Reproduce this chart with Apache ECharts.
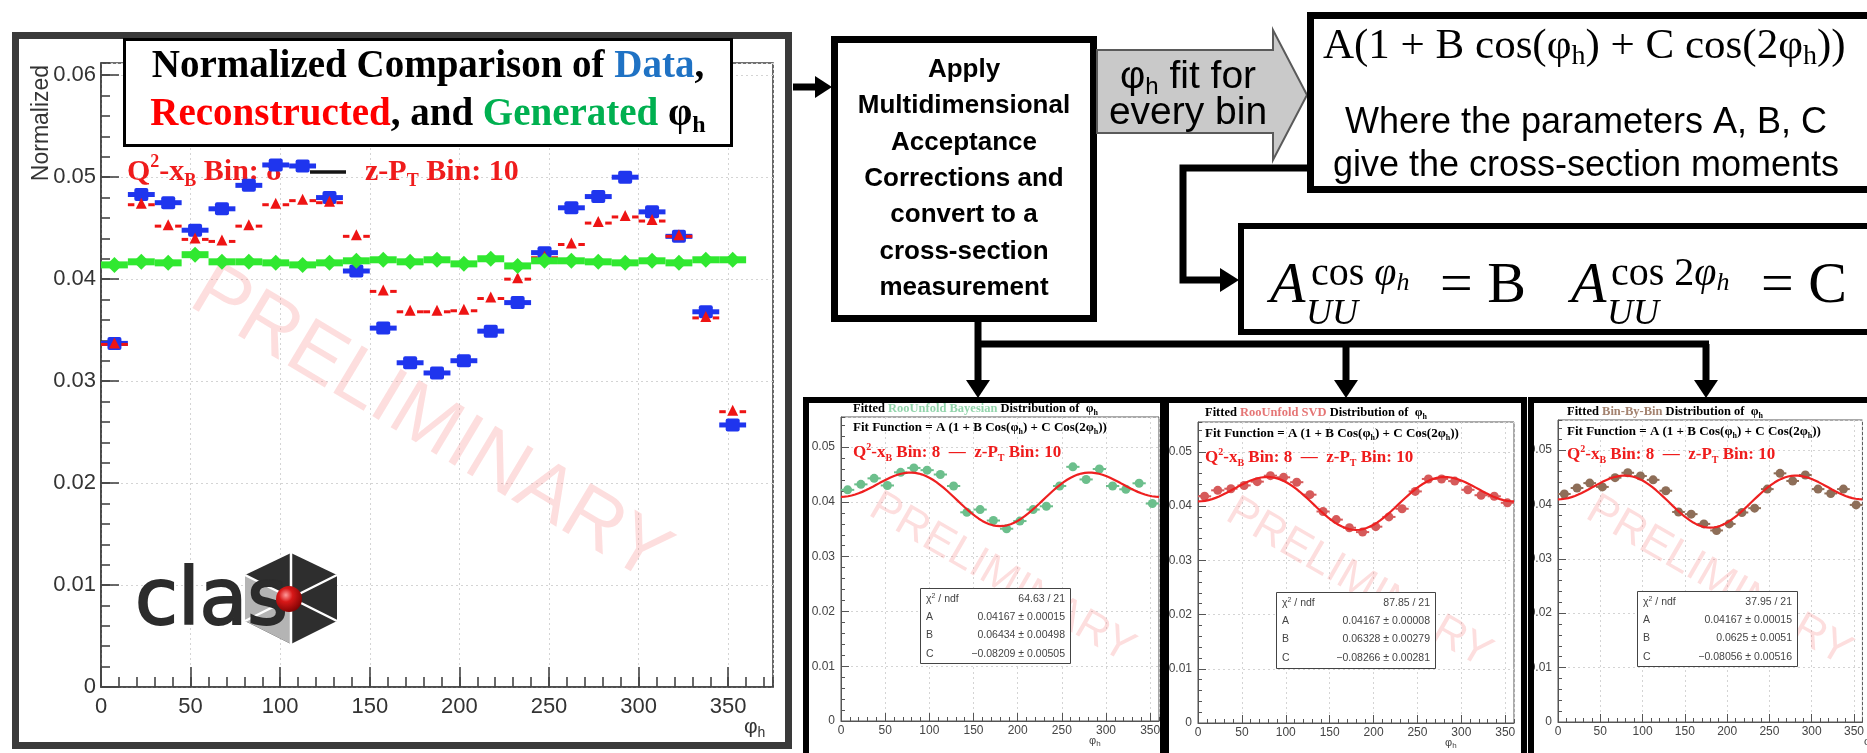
<!DOCTYPE html>
<html>
<head>
<meta charset="utf-8">
<title>Normalized φh comparison and acceptance-corrected fits</title>
<script src="https://cdn.jsdelivr.net/npm/echarts@6.0.0/dist/echarts.min.js"></script>
<style>
  html, body { margin: 0; padding: 0; background: #ffffff; }
  #chart { width: 1867px; height: 753px; }
</style>
</head>
<body>
<div id="chart"></div>
<script>
// φh bin centres (15° bins)
const phiBins = [7.5, 22.5, 37.5, 52.5, 67.5, 82.5, 97.5, 112.5, 127.5, 142.5, 157.5, 172.5,
                 187.5, 202.5, 217.5, 232.5, 247.5, 262.5, 277.5, 292.5, 307.5, 322.5, 337.5, 352.5];
const binWidth = 15;

// Normalized φh distributions, Q²-xB bin 8, z-PT bin 10
const dataNorm  = [0.0337, 0.0483, 0.0475, 0.0448, 0.0469, 0.0492, 0.0512, 0.0511, 0.0480, 0.0408, 0.0352, 0.0318,
                   0.0308, 0.0320, 0.0349, 0.0377, 0.0426, 0.0470, 0.0481, 0.0500, 0.0466, 0.0442, 0.0368, 0.0257];
const reconNorm = [0.0336, 0.0473, 0.0452, 0.0439, 0.0437, 0.0452, 0.0473, 0.0477, 0.0475, 0.0442, 0.0388, 0.0368,
                   0.0368, 0.0369, 0.0381, 0.0400, 0.0421, 0.0434, 0.0455, 0.0461, 0.0457, 0.0442, 0.0362, 0.0270];
const genNorm   = [0.0414, 0.0417, 0.0416, 0.0424, 0.0417, 0.0417, 0.0416, 0.0414, 0.0416, 0.0418, 0.0419, 0.0417,
                   0.0419, 0.0415, 0.0420, 0.0413, 0.0418, 0.0418, 0.0417, 0.0416, 0.0418, 0.0416, 0.0419, 0.0419];

// Acceptance-corrected φh distributions
const bayesCorr = [0.0422, 0.0432, 0.0443, 0.0430, 0.0454, 0.0462, 0.0458, 0.0450, 0.0429, 0.0381, 0.0386, 0.0366,
                   0.0351, 0.0365, 0.0386, 0.0392, 0.0429, 0.0464, 0.0441, 0.0460, 0.0429, 0.0423, 0.0434, 0.0397];
const svdCorr   = [0.0418, 0.0429, 0.0432, 0.0438, 0.0445, 0.0456, 0.0453, 0.0444, 0.0421, 0.0390, 0.0375, 0.0360,
                   0.0352, 0.0362, 0.0380, 0.0395, 0.0427, 0.0450, 0.0450, 0.0446, 0.0430, 0.0420, 0.0418, 0.0406];
const bbbCorr   = [0.0419, 0.0430, 0.0439, 0.0432, 0.0449, 0.0458, 0.0452, 0.0445, 0.0425, 0.0386, 0.0382, 0.0364,
                   0.0352, 0.0364, 0.0385, 0.0393, 0.0428, 0.0457, 0.0443, 0.0454, 0.0428, 0.0420, 0.0428, 0.0399];

// Fit results for A (1 + B cos φh + C cos 2φh)
const methodNames = ['RooUnfold Bayesian', 'RooUnfold SVD', 'Bin-By-Bin'];
const fitChi2 = ['64.63 / 21', '87.85 / 21', '37.95 / 21'];
const fitA    = [0.04167, 0.04167, 0.04167];
const fitAErr = [0.00015, 0.00008, 0.00015];
const fitB    = [0.06434, 0.06328, 0.0625];
const fitBErr = [0.00498, 0.00279, 0.0051];
const fitC    = [-0.08209, -0.08266, -0.08056];
const fitCErr = [0.00505, 0.00281, 0.00516];

// Tick labels
const phiTicks = [0, 50, 100, 150, 200, 250, 300, 350];
const yTickLabels = ['0', '0.01', '0.02', '0.03', '0.04', '0.05', '0.06'];

// ---------------------------------------------------------------------------
const SERIF = '"Liberation Serif", "Times New Roman", serif';
const SANS = '"Liberation Sans", Arial, sans-serif';
const BLUE = '#1f35ee', RED = '#ee1414', GREEN = '#30e830';
const corrSets = [bayesCorr, svdCorr, bbbCorr];
const markerColors = ['#6cbf8c', '#d65a5a', '#8e6e58'];
const accentColors = ['#92d4ab', '#e57575', '#a3826f'];

const chart = echarts.init(document.getElementById('chart'));
const grids = [], xAxes = [], yAxes = [], series = [], graphics = [];

function yLabel(v) {
  const k = Math.round(v * 100);
  if (Math.abs(v * 100 - k) > 1e-6) return '';
  return yTickLabels[k] || '';
}

function addFrame(idx, layout, o) {
  grids.push(Object.assign({ show: true, borderColor: o.axisColor, borderWidth: o.axisWidth, backgroundColor: 'transparent' }, layout));
  const lab = { color: o.labelColor, fontFamily: SANS, fontSize: o.fontSize };
  const tickStyle = { color: o.axisColor, width: o.axisWidth };
  xAxes.push({
    type: 'value', gridIndex: idx, position: 'bottom', min: 0, max: o.xMax, interval: 50,
    axisLine: { show: true, onZero: false, lineStyle: tickStyle },
    axisTick: { show: true, inside: true, length: o.xMajor, lineStyle: tickStyle },
    axisLabel: Object.assign({ margin: o.xMargin, showMaxLabel: false,
      formatter: v => phiTicks.indexOf(v) >= 0 ? String(v) : '' }, lab),
    splitLine: { show: true, lineStyle: { color: '#d4d4d4', width: 1, type: [2, 3] } }
  });
  xAxes.push({
    type: 'value', gridIndex: idx, position: 'bottom', min: 0, max: o.xMax, interval: 10,
    axisLine: { show: false }, axisLabel: { show: false }, splitLine: { show: false },
    axisTick: { show: true, inside: true, length: o.xMinor, lineStyle: tickStyle }
  });
  yAxes.push({
    type: 'value', gridIndex: idx, position: 'left', min: 0, max: o.yMax, interval: 0.01,
    axisLine: { show: true, onZero: false, lineStyle: tickStyle },
    axisTick: { show: true, inside: true, length: o.yMajor, lineStyle: tickStyle },
    axisLabel: Object.assign({ margin: o.yMargin, showMaxLabel: false, formatter: yLabel }, lab),
    splitLine: { show: true, lineStyle: { color: '#d4d4d4', width: 1, type: [2, 3] } }
  });
  yAxes.push({
    type: 'value', gridIndex: idx, position: 'left', min: 0, max: o.yMax, interval: 0.002,
    axisLine: { show: false }, axisLabel: { show: false }, splitLine: { show: false },
    axisTick: { show: true, inside: true, length: o.yMinor, lineStyle: tickStyle }
  });
}

const pairs = vals => phiBins.map((p, i) => [p, vals[i]]);
function binEnds(api) {
  const x = api.value(0), y = api.value(1);
  return { c: api.coord([x, y]), l: api.coord([x - binWidth / 2, y]), r: api.coord([x + binWidth / 2, y]) };
}

// ---------------- main comparison plot ----------------
addFrame(0, { left: 101, top: 63, width: 672, height: 624 }, {
  xMax: 375, yMax: 0.0612, axisColor: '#444', axisWidth: 1.6, labelColor: '#333', fontSize: 22,
  xMajor: 20, xMinor: 10, yMajor: 18, yMinor: 9, xMargin: 9, yMargin: 5
});

series.push({
  name: 'Data', type: 'custom', xAxisIndex: 0, yAxisIndex: 0, z: 3, data: pairs(dataNorm),
  renderItem(params, api) {
    const { c, l, r } = binEnds(api);
    return { type: 'group', children: [
      { type: 'line', shape: { x1: l[0], y1: c[1], x2: r[0], y2: c[1] }, style: { stroke: BLUE, lineWidth: 5 } },
      { type: 'rect', shape: { x: c[0] - 7, y: c[1] - 6.5, width: 14, height: 13, r: 2 }, style: { fill: BLUE } }
    ] };
  }
});
series.push({
  name: 'Reconstructed', type: 'custom', xAxisIndex: 0, yAxisIndex: 0, z: 4, data: pairs(reconNorm),
  renderItem(params, api) {
    const { c, l, r } = binEnds(api);
    return { type: 'group', children: [
      { type: 'line', shape: { x1: l[0], y1: c[1], x2: l[0] + 6.5, y2: c[1] }, style: { stroke: RED, lineWidth: 3 } },
      { type: 'line', shape: { x1: r[0] - 6.5, y1: c[1], x2: r[0], y2: c[1] }, style: { stroke: RED, lineWidth: 3 } },
      { type: 'polygon', shape: { points: [[c[0], c[1] - 7], [c[0] - 5.5, c[1] + 4], [c[0] + 5.5, c[1] + 4]] }, style: { fill: RED } }
    ] };
  }
});
series.push({
  name: 'Generated', type: 'custom', xAxisIndex: 0, yAxisIndex: 0, z: 5, data: pairs(genNorm),
  renderItem(params, api) {
    const { c, l, r } = binEnds(api);
    return { type: 'group', children: [
      { type: 'line', shape: { x1: l[0], y1: c[1], x2: r[0], y2: c[1] }, style: { stroke: GREEN, lineWidth: 7 } },
      { type: 'polygon', shape: { points: [[c[0], c[1] - 8], [c[0] + 8, c[1]], [c[0], c[1] + 8], [c[0] - 8, c[1]]] }, style: { fill: GREEN } }
    ] };
  }
});

// ---------------- three fitted panels ----------------
const panelGrids = [
  { left: 841, top: 417, width: 318, height: 304 },
  { left: 1198, top: 422, width: 316, height: 301 },
  { left: 1558, top: 420, width: 317, height: 302 }
];
const panelFrames = [[806, 400, 357, 380], [1166, 400, 358, 380], [1531, 400, 360, 380]];
const statBoxes = [[920, 588, 150, 75], [1276, 592, 159, 76], [1637, 591, 160, 75]];
const textX = [853, 1205, 1567];
const titleY = [409, 413, 412], fitY = [428, 434, 432], qY = [453, 458, 455];
const phiLabelPos = [[1089, 741], [1445, 743], [1864, 742]];

panelGrids.forEach((g, p) => {
  const idx = p + 1;
  addFrame(idx, g, {
    xMax: 360, yMax: 0.0555, axisColor: '#555', axisWidth: 1, labelColor: '#444', fontSize: 12,
    xMajor: 8, xMinor: 4, yMajor: 8, yMinor: 4, xMargin: 4, yMargin: 6
  });
  const col = markerColors[p];
  series.push({
    name: methodNames[p], type: 'custom', xAxisIndex: 2 * idx, yAxisIndex: 2 * idx, z: 3, data: pairs(corrSets[p]),
    renderItem(params, api) {
      const { c, l, r } = binEnds(api);
      return { type: 'group', children: [
        { type: 'line', shape: { x1: l[0], y1: c[1], x2: r[0], y2: c[1] }, style: { stroke: col, lineWidth: 2 } },
        { type: 'circle', shape: { cx: c[0], cy: c[1], r: 4.5 }, style: { fill: col } }
      ] };
    }
  });
  // fit curve drawn from the fitted parameters
  const A = fitA[p], B = fitB[p], C = fitC[p];
  const curve = [];
  for (let phi = 0; phi <= 360; phi += 2) {
    const t = phi * Math.PI / 180;
    curve.push([phi, A * (1 + B * Math.cos(t) + C * Math.cos(2 * t))]);
  }
  series.push({
    name: 'fit ' + methodNames[p], type: 'line', xAxisIndex: 2 * idx, yAxisIndex: 2 * idx, z: 4,
    data: curve, showSymbol: false, symbol: 'none', smooth: false, silent: true,
    lineStyle: { color: '#ee2020', width: 2.2 }
  });
});

// ---------------- graphic helpers ----------------
const T = (x, y, style, z) => ({ type: 'text', x, y, z: z == null ? 10 : z, silent: true, style });
const R = (x, y, w, h, style, z) => ({ type: 'rect', z: z == null ? 10 : z, silent: true, shape: { x, y, width: w, height: h }, style });
const PL = (pts, w, z, color) => ({ type: 'polyline', z: z == null ? 10 : z, silent: true, shape: { points: pts }, style: { stroke: color || '#000', lineWidth: w, fill: null, lineJoin: 'miter' } });
const PG = (pts, fill, z, extra) => ({ type: 'polygon', z: z == null ? 11 : z, silent: true, shape: { points: pts }, style: Object.assign({ fill }, extra || {}) });
const rs = (size, extra) => Object.assign({ fontFamily: SERIF, fontWeight: 'bold', fontSize: size, fill: '#000' }, extra || {});

// main plot outer frame
graphics.push(R(15.5, 35.5, 773, 710, { fill: null, stroke: '#3a3a3a', lineWidth: 7 }, 9));

// main title box
graphics.push(R(124.5, 39.5, 607, 106, { fill: '#fff', stroke: '#000', lineWidth: 3 }, 10));
{
  const tb = rs(39, { lineHeight: 46 });
  const rich = {
    k: tb, d: rs(39, { lineHeight: 46, fill: '#1f72c4' }), r: rs(39, { lineHeight: 46, fill: '#ff0000' }),
    g: rs(39, { lineHeight: 46, fill: '#00b050' }), s: rs(24, { lineHeight: 24, verticalAlign: 'bottom' })
  };
  graphics.push(T(428, 67, { text: '{k|Normalized Comparison of }{d|Data}{k|,}', rich, align: 'center', verticalAlign: 'middle' }, 11));
  graphics.push(T(428, 115, { text: '{r|Reconstructed}{k|, and }{g|Generated}{k| φ}{s|h}', rich, align: 'center', verticalAlign: 'middle' }, 11));
}

// bin label styles: Q²-xB bin and z-PT bin
function binRich(size) {
  const small = Math.round(size * 0.6);
  return {
    q: rs(size, { lineHeight: size * 1.25, fill: '#ef1c1c' }),
    p: rs(small, { fill: '#ef1c1c', lineHeight: small, verticalAlign: 'top' }),
    b: rs(small, { fill: '#ef1c1c', lineHeight: small, verticalAlign: 'bottom' })
  };
}
{
  const rich = binRich(30);
  graphics.push(T(127, 172, { text: '{q|Q}{p|2}{q|-x}{b|B}{q| Bin: 8}', rich, verticalAlign: 'middle' }, 1));
  graphics.push({ type: 'line', z: 1, silent: true, shape: { x1: 310, y1: 172, x2: 346, y2: 172 }, style: { stroke: '#151515', lineWidth: 3.5 } });
  graphics.push(T(365, 172, { text: '{q|z-P}{b|T}{q| Bin: 10}', rich, verticalAlign: 'middle' }, 1));
}

// axis titles
graphics.push({ type: 'text', x: 42, y: 123, rotation: Math.PI / 2, z: 2, silent: true,
  style: { text: 'Normalized', fontFamily: SANS, fontSize: 23, fill: '#333', align: 'center', verticalAlign: 'middle' } });
graphics.push(T(744, 727, { text: '{m|φ}{s|h}', verticalAlign: 'middle',
  rich: { m: { fontFamily: SANS, fontSize: 21, fill: '#333', lineHeight: 26 }, s: { fontFamily: SANS, fontSize: 14, fill: '#333', lineHeight: 14, verticalAlign: 'bottom' } } }, 2));

// watermark
graphics.push({ type: 'text', x: 430, y: 425, rotation: -31 * Math.PI / 180, z: 1, silent: true,
  style: { text: 'PRELIMINARY', fontFamily: SANS, fontSize: 80, fill: 'rgba(245,90,90,0.20)', align: 'center', verticalAlign: 'middle' } });

// CLAS logo
{
  const cx = 291, cy = 598;
  const hex = [[291, 553], [337, 575], [337, 621], [291, 644], [245, 621], [245, 575]];
  graphics.push(PG(hex, '#2e2e2e', 3));
  graphics.push(PG([[245, 575], [cx, cy], [291, 644], [245, 621]], '#b4b4b4', 3));
  hex.forEach(v => graphics.push({ type: 'line', z: 3, silent: true, shape: { x1: cx, y1: cy, x2: v[0], y2: v[1] }, style: { stroke: '#fff', lineWidth: 2.5 } }));
  graphics.push(T(135, 604, { text: 'clas', fontFamily: '"DejaVu Sans", sans-serif', fontWeight: 'normal', fontSize: 78, fill: '#2c2c2c', stroke: '#2c2c2c', lineWidth: 2, verticalAlign: 'middle' }, 3));
  graphics.push({ type: 'circle', z: 4, silent: true, shape: { cx: 289, cy: 599, r: 13 },
    style: { fill: new echarts.graphic.RadialGradient(0.38, 0.35, 0.75, [
      { offset: 0, color: '#ff9a9a' }, { offset: 0.35, color: '#d81818' }, { offset: 1, color: '#700000' }]) } });
}

// ---------------- flow chart ----------------
// arrow into the corrections box
graphics.push(PL([[793, 87], [818, 87]], 7));
graphics.push(PG([[815, 76], [832, 87], [815, 98]], '#000'));

graphics.push(R(834.5, 39.5, 259, 279, { fill: '#fff', stroke: '#000', lineWidth: 7 }));
['Apply', 'Multidimensional', 'Acceptance', 'Corrections and', 'convert to a', 'cross-section', 'measurement']
  .forEach((s, i) => graphics.push(T(964, 70 + i * 36.3, { text: s, fontFamily: SANS, fontWeight: 'bold', fontSize: 26, fill: '#000', align: 'center', verticalAlign: 'middle' })));

// grey block arrow
graphics.push(PG([[1097, 50], [1273, 50], [1273, 30], [1307, 95], [1273, 160], [1273, 133], [1097, 133]], '#c9c9c9', 10, { stroke: '#5a5a5a', lineWidth: 2 }));
{
  const rich = { m: { fontFamily: SANS, fontSize: 39, fill: '#000', lineHeight: 44 }, s: { fontFamily: SANS, fontSize: 24, fill: '#000', lineHeight: 24, verticalAlign: 'bottom' } };
  graphics.push(T(1188, 77, { text: '{m|φ}{s|h}{m| fit for}', rich, align: 'center', verticalAlign: 'middle' }, 12));
  graphics.push(T(1188, 113, { text: '{m|every bin}', rich, align: 'center', verticalAlign: 'middle' }, 12));
}

// fit-function box
graphics.push(R(1310.5, 15.5, 600, 174, { fill: '#fff', stroke: '#000', lineWidth: 7 }));
{
  const rich = { n: { fontFamily: SERIF, fontSize: 43, fill: '#000', lineHeight: 48 }, s: { fontFamily: SERIF, fontSize: 28, fill: '#000', lineHeight: 28, verticalAlign: 'bottom' } };
  graphics.push(T(1323, 47, { text: '{n|A(1 + B cos(φ}{s|h}{n|) + C cos(2φ}{s|h}{n|))}', rich, verticalAlign: 'middle' }, 11));
  graphics.push(T(1586, 123, { text: 'Where the parameters A, B, C', fontFamily: SANS, fontSize: 36, fill: '#000', align: 'center', verticalAlign: 'middle' }, 11));
  graphics.push(T(1586, 166, { text: 'give the cross-section moments', fontFamily: SANS, fontSize: 36, fill: '#000', align: 'center', verticalAlign: 'middle' }, 11));
}

// connector to the moments box
graphics.push(PL([[1307, 168], [1183, 168], [1183, 280], [1222, 280]], 7));
graphics.push(PG([[1220, 268], [1239, 280], [1220, 292]], '#000'));
graphics.push(R(1241, 226, 650, 106, { fill: '#fff', stroke: '#000', lineWidth: 6 }));
{
  const it = { fontFamily: SERIF, fontStyle: 'italic', fill: '#000' };
  const up = { fontFamily: SERIF, fill: '#000' };
  const supRich = {
    r: Object.assign({ fontSize: 40, lineHeight: 44 }, up),
    i: Object.assign({ fontSize: 40, lineHeight: 44 }, it),
    h: Object.assign({ fontSize: 26, lineHeight: 26, verticalAlign: 'bottom' }, it)
  };
  graphics.push(T(1270, 287, Object.assign({ text: 'A', fontSize: 58, verticalAlign: 'middle' }, it), 11));
  graphics.push(T(1311, 274, { text: '{r|cos }{i|φ}{h|h}', rich: supRich, verticalAlign: 'middle' }, 11));
  graphics.push(T(1306, 315, Object.assign({ text: 'UU', fontSize: 36, verticalAlign: 'middle' }, it), 11));
  graphics.push(T(1440, 287, Object.assign({ text: '= B', fontSize: 58, verticalAlign: 'middle' }, up), 11));
  graphics.push(T(1571, 287, Object.assign({ text: 'A', fontSize: 58, verticalAlign: 'middle' }, it), 11));
  graphics.push(T(1611, 274, { text: '{r|cos 2}{i|φ}{h|h}', rich: supRich, verticalAlign: 'middle' }, 11));
  graphics.push(T(1607, 315, Object.assign({ text: 'UU', fontSize: 36, verticalAlign: 'middle' }, it), 11));
  graphics.push(T(1761, 287, Object.assign({ text: '= C', fontSize: 58, verticalAlign: 'middle' }, up), 11));
}

// distribution bus to the three fitted panels
graphics.push(PL([[978, 322], [978, 384]], 7));
graphics.push(PL([[975, 344], [1709, 344]], 7));
graphics.push(PL([[1346, 344], [1346, 384]], 7));
graphics.push(PL([[1706, 344], [1706, 384]], 7));
[978, 1346, 1706].forEach(x => graphics.push(PG([[x - 12, 380], [x + 12, 380], [x, 398]], '#000', 12)));

// panel frames, labels, stat boxes
panelGrids.forEach((g, p) => {
  const f = panelFrames[p];
  graphics.push(R(f[0], f[1], f[2], f[3], { fill: null, stroke: '#000', lineWidth: 6 }, 11));

  const tb = rs(12.5, { lineHeight: 15 });
  graphics.push(T(textX[p], titleY[p], {
    text: '{k|Fitted }{c|' + methodNames[p] + '}{k| Distribution of  φ}{s|h}', verticalAlign: 'middle',
    rich: { k: tb, c: rs(12.5, { lineHeight: 15, fill: accentColors[p] }), s: rs(8, { lineHeight: 8, verticalAlign: 'bottom' }) }
  }, 6));
  graphics.push(T(textX[p], fitY[p], {
    text: '{k|Fit Function = A (1 + B Cos(φ}{s|h}{k|) + C Cos(2φ}{s|h}{k|))}', verticalAlign: 'middle',
    rich: { k: rs(13, { lineHeight: 16 }), s: rs(8, { lineHeight: 8, verticalAlign: 'bottom' }) }
  }, 6));
  graphics.push(T(textX[p], qY[p], {
    text: '{q|Q}{p|2}{q|-x}{b|B}{q| Bin: 8  —  z-P}{b|T}{q| Bin: 10}', rich: binRich(17), verticalAlign: 'middle'
  }, 6));

  graphics.push(T(phiLabelPos[p][0], phiLabelPos[p][1], { text: '{m|φ}{s|h}', verticalAlign: 'middle',
    rich: { m: { fontFamily: SANS, fontSize: 11, fill: '#444', lineHeight: 14 }, s: { fontFamily: SANS, fontSize: 8, fill: '#444', lineHeight: 8, verticalAlign: 'bottom' } } }, 6));

  graphics.push({ type: 'text', x: g.left + 161, y: g.top + 161, rotation: -30 * Math.PI / 180, z: 1, silent: true,
    style: { text: 'PRELIMINARY', fontFamily: SANS, fontSize: 44, fill: 'rgba(245,90,90,0.20)', align: 'center', verticalAlign: 'middle' } });

  const b = statBoxes[p];
  graphics.push(R(b[0] + 0.5, b[1] + 0.5, b[2], b[3], { fill: '#fff', stroke: '#444', lineWidth: 1 }, 7));
  const fmt = v => String(v).replace('-', '\u2212');
  const rows = [
    ['{t|χ}{p|2}{t| / ndf}', fitChi2[p]],
    ['{t|A}', fmt(fitA[p]) + ' ± ' + fmt(fitAErr[p])],
    ['{t|B}', fmt(fitB[p]) + ' ± ' + fmt(fitBErr[p])],
    ['{t|C}', fmt(fitC[p]) + ' ± ' + fmt(fitCErr[p])]
  ];
  const sr = { t: { fontFamily: SANS, fontSize: 10.5, fill: '#444', lineHeight: 13 }, p: { fontFamily: SANS, fontSize: 7, fill: '#444', lineHeight: 7, verticalAlign: 'top' } };
  rows.forEach((row, i) => {
    const y = b[1] + 11 + i * 18.3;
    graphics.push(T(b[0] + 6, y, { text: row[0], rich: sr, verticalAlign: 'middle' }, 8));
    graphics.push(T(b[0] + b[2] - 5, y, { text: row[1], fontFamily: SANS, fontSize: 10.5, fill: '#444', align: 'right', verticalAlign: 'middle' }, 8));
  });
});

chart.setOption({
  animation: false,
  backgroundColor: '#ffffff',
  grid: grids,
  xAxis: xAxes,
  yAxis: yAxes,
  series,
  graphic: { elements: graphics }
});
</script>
</body>
</html>
